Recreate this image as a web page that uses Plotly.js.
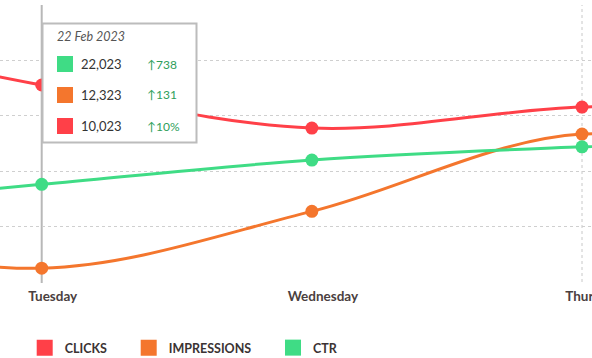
<!DOCTYPE html>
<html>
<head>
<meta charset="utf-8">
<script src="https://cdn.plot.ly/plotly-3.0.1.min.js"></script>
<style>html,body{margin:0;padding:0;background:#fff;}#chart{width:592px;height:358px;}</style>
</head>
<body>
<div id="chart"></div>
<script>
// ---- data ----
const days = ['Monday', 'Tuesday', 'Wednesday', 'Thursday', 'Friday'];
const clicks = [4600, 3560, 2780, 3160, 3100];
const impressions = [1000, 240, 1270, 2670, 1900];
const ctr = [1300, 1760, 2200, 2440, 2600];
const seriesNames = ['CLICKS', 'IMPRESSIONS', 'CTR'];
const seriesColors = ['#ff4048', '#f4762d', '#3fdc85'];

const tooltipDay = 'Tuesday';
const tooltipDate = '22 Feb 2023';
const tooltipValues = ['22,023', '12,323', '10,023'];
const tooltipDeltas = ['↑738', '↑131', '↑10%'];
const tooltipColors = ['#3fdc85', '#f4762d', '#ff4048'];
const gridDay = 'Thursday';

// ---- layout helpers ----
const W = 592, H = 358;
const M = {l: 0, r: 0, t: 5, b: 76};
const plotH = H - M.t - M.b;
const plotBottom = H - M.b;
const px = x => x / (W - M.l - M.r);
const py = y => (plotBottom - y) / plotH;

const seriesData = [clicks, impressions, ctr];
const traces = [];
seriesData.forEach((vals, i) => {
  traces.push({
    x: days, y: vals, type: 'scatter', mode: 'lines+markers',
    line: {shape: 'spline', smoothing: 1, color: seriesColors[i], width: 3},
    marker: {size: 13, color: seriesColors[i]},
    showlegend: false, hoverinfo: 'skip', cliponaxis: true
  });
});
seriesNames.forEach((name, i) => {
  traces.push({
    x: [null], y: [null], type: 'scatter', mode: 'markers', name: name,
    marker: {symbol: 'square', size: 16, color: seriesColors[i]},
    legend: i === 0 ? 'legend' : 'legend' + (i + 1), hoverinfo: 'skip'
  });
});

const shapes = [
  {type: 'line', xref: 'x', yref: 'paper', x0: gridDay, x1: gridDay, y0: 0, y1: 1,
   line: {color: '#c8c8c8', width: 1, dash: 'dot'}, layer: 'below'},
  {type: 'line', xref: 'x', yref: 'paper', x0: tooltipDay, x1: tooltipDay, y0: py(283), y1: py(5),
   line: {color: '#b8b8b8', width: 2}, layer: 'below'},
  {type: 'rect', xref: 'paper', yref: 'paper', x0: px(42.5), x1: px(196.5), y0: py(142.5), y1: py(23.5),
   line: {color: '#bcbcbc', width: 2}, fillcolor: '#ffffff', layer: 'above'}
];
const annotations = [
  {xref: 'paper', yref: 'paper', x: px(55), y: py(37), xanchor: 'left', yanchor: 'middle', showarrow: false,
   text: '<i>' + tooltipDate + '</i>', font: {family: 'Lato', size: 12.5, color: '#555555'}}
];
const rowY = [64, 95, 126];
tooltipValues.forEach((v, i) => {
  shapes.push({type: 'rect', xref: 'paper', yref: 'paper', x0: px(57), x1: px(73),
    y0: py(rowY[i] + 8), y1: py(rowY[i] - 8), line: {width: 0}, fillcolor: tooltipColors[i], layer: 'above'});
  annotations.push({xref: 'paper', yref: 'paper', x: px(79), y: py(rowY[i]), xanchor: 'left', yanchor: 'middle',
    showarrow: false, text: v, font: {family: 'Lato', size: 13, color: '#333333'}});
  annotations.push({xref: 'paper', yref: 'paper', x: px(145), y: py(rowY[i]), xanchor: 'left', yanchor: 'middle',
    showarrow: false, text: tooltipDeltas[i], font: {family: 'Lato', size: 12, color: '#2e9e5a'}});
});

const legendBase = {orientation: 'h', xref: 'container', yref: 'container', xanchor: 'left', yanchor: 'middle',
  y: 1 - 348 / H, font: {family: 'Lato', size: 12.5, color: '#3b3333', weight: 700}, bgcolor: 'rgba(0,0,0,0)'};
const legendX = [24.7, 128.7, 273];

const layout = {
  width: W, height: H,
  margin: M,
  paper_bgcolor: '#ffffff', plot_bgcolor: '#ffffff',
  font: {family: 'Lato', color: '#3b3333'},
  hovermode: false,
  showlegend: true,
  legend: Object.assign({}, legendBase, {x: legendX[0] / W}),
  legend2: Object.assign({}, legendBase, {x: legendX[1] / W}),
  legend3: Object.assign({}, legendBase, {x: legendX[2] / W}),
  xaxis: {
    type: 'category', categoryarray: days, categoryorder: 'array',
    range: [0.8456, 3.037], showgrid: false, zeroline: false, showline: false,
    ticks: '', ticklabelshift: 11, ticklabelstandoff: 4,
    tickfont: {family: 'Lato', size: 13.5, color: '#4a4040', weight: 700}, fixedrange: true
  },
  yaxis: {
    range: [-10, 5010], dtick: 1000, tick0: 0, showticklabels: false, zeroline: false,
    showgrid: true, gridcolor: '#cfcfcf', gridwidth: 1, griddash: 'dot', showline: false, fixedrange: true
  },
  shapes: shapes,
  annotations: annotations
};

Plotly.newPlot('chart', traces, layout, {displayModeBar: false, staticPlot: true});
</script>
</body>
</html>
